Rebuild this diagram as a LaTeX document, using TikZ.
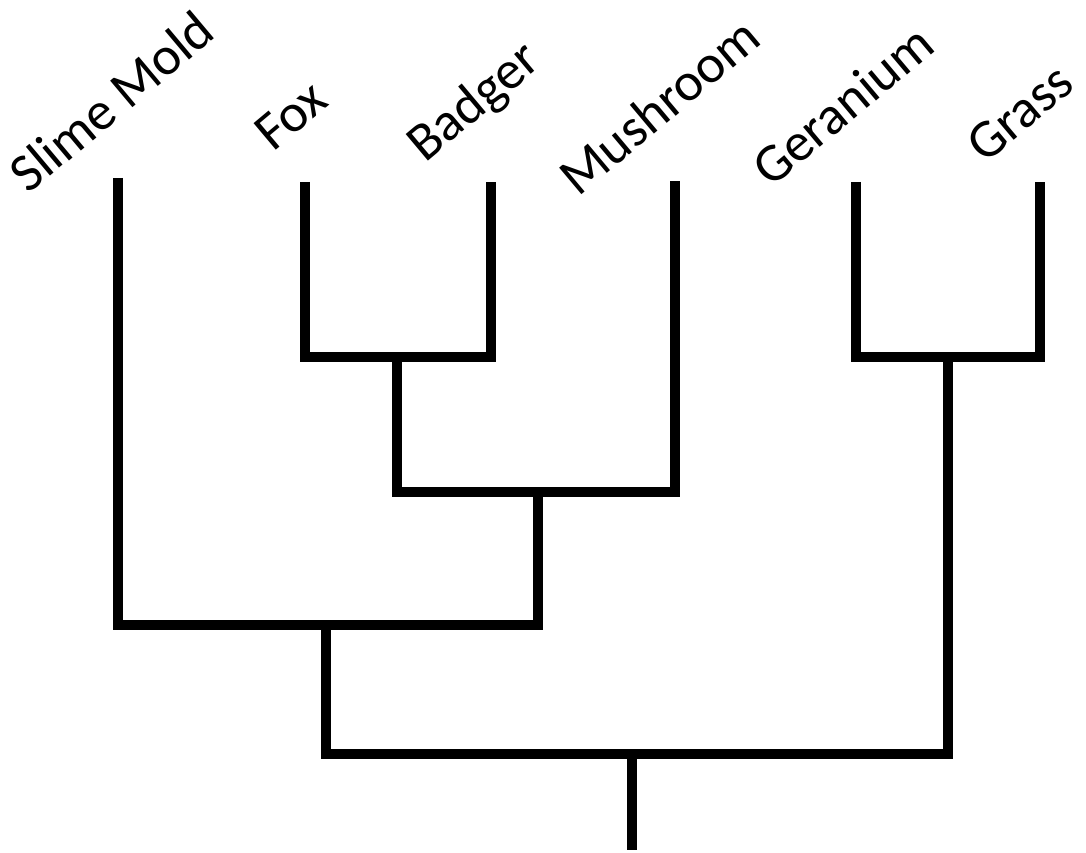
\documentclass[tikz,border=0pt]{standalone}
\usepackage{fontspec}
\setmainfont{Carlito}
\begin{document}
\begin{tikzpicture}[x=1pt,y=-1pt,
  branch/.style={line width=10pt, line join=miter, line cap=butt, black},
  taxon/.style={anchor=base west, rotate=40, inner sep=0pt, font=\fontsize{54}{64}\selectfont}]
\useasboundingbox (0,0) rectangle (1086,853);
% labels
\node[taxon] (lslime) at (28,195) {Slime Mold};
\node[taxon] (lfox) at (273,153) {Fox};
\node[taxon] (lbadger) at (425,164) {Badger};
\node[taxon] (lmush) at (578,198) {Mushroom};
\node[taxon] (lger) at (771,189) {Geranium};
\node[taxon] (lgrass) at (985,165) {Grass};
% tips
\coordinate (slime) at (118,178);
\coordinate (fox) at (305,182);
\coordinate (badger) at (491,182);
\coordinate (mush) at (675,181);
\coordinate (ger) at (856,182);
\coordinate (grass) at (1040,182);
% junctions
\coordinate (fbj) at (397,357);
\coordinate (fbmj) at (538,492);
\coordinate (smj) at (326,625);
\coordinate (plj) at (948,357);
\coordinate (rootj) at (632,754);
\coordinate (root) at (632,850);
% branches
\draw[branch] (fox) |- (fbj) -| (badger);
\draw[branch] (fbj) |- (fbmj) -| (mush);
\draw[branch] (slime) |- (smj) -| (fbmj);
\draw[branch] (ger) |- (plj) -| (grass);
\draw[branch] (smj) |- (rootj) -| (plj);
\draw[branch] (rootj) -- (root);
\end{tikzpicture}
\end{document}
